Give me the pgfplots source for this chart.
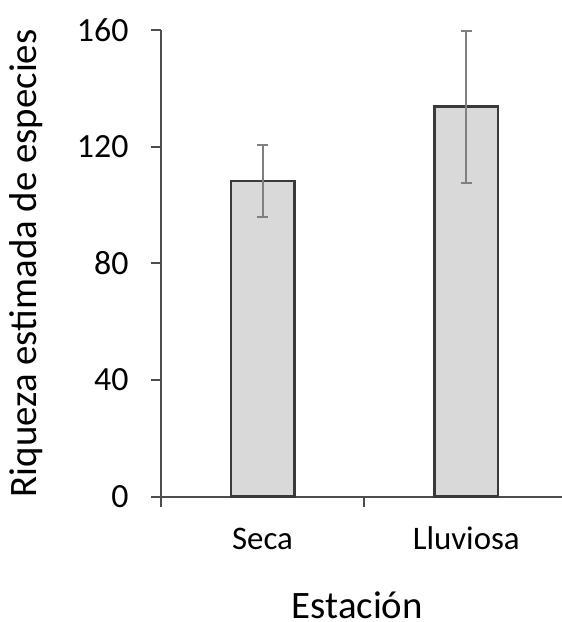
\documentclass[border=0pt]{standalone}
\usepackage{pgfplots}
\pgfplotsset{compat=1.18}
\usepackage{fontspec}
\setmainfont{Carlito}
\definecolor{barfill}{HTML}{D9D9D9}
\definecolor{baredge}{HTML}{3A3A3A}
\definecolor{axcol}{HTML}{4D4D4D}
\definecolor{errcol}{HTML}{7F7F7F}
\begin{document}
\fontsize{33}{40}\selectfont
\begin{tikzpicture}
\begin{axis}[
  scale only axis, width=401.3bp, height=466.7bp,
  xmin=-0.5, xmax=1.47, ymin=0, ymax=160,
  axis lines*=left,
  axis line style={axcol, line width=2bp, -},
  ytick={0,40,80,120,160},
  ytick style={axcol, line width=2bp},
  tick align=outside,
  major tick length=10bp,
  yticklabel style={font=\fontsize{34}{40}\selectfont, anchor=east, inner sep=0pt, xshift=-22bp},
  /pgf/number format/assume math mode=true,
  xtick={0,1},
  xticklabels={Seca,Lluviosa},
  x tick style={draw=none},
  xticklabel style={font=\fontsize{33}{40}\selectfont, anchor=base, inner sep=0pt, yshift=-43bp},
  extra x ticks={-0.5,0.5},
  extra x tick labels={},
  extra x tick style={x tick style={draw=axcol, line width=2bp}, major tick length=10bp},
  every axis y label/.style={at={(rel axis cs:-0.3083,0.5)}, rotate=90, anchor=base, inner sep=0pt, font=\fontsize{39}{46}\selectfont},
  every axis x label/.style={at={(rel axis cs:0.49,0)}, anchor=base, inner sep=0pt, yshift=-121.3bp, font=\fontsize{39}{46}\selectfont},
  ylabel={Riqueza estimada de especies},
  xlabel={Estación},
  clip=false,
]
\addplot[ybar, bar width=63.5bp, fill=barfill, draw=baredge, line width=2.5bp,
  error bars/.cd, y dir=both, y explicit,
  error bar style={errcol, line width=2bp},
  error mark options={rotate=90, mark size=5.5bp, line width=2bp, errcol}]
  coordinates {(0,108.2) +- (0,12.4) (1,133.7) +- (0,26.0)};
\end{axis}
\pgfresetboundingbox
\path[use as bounding box] (-160.7bp,-125.3bp) rectangle (401.3bp,496.7bp);
\end{tikzpicture}
\end{document}
